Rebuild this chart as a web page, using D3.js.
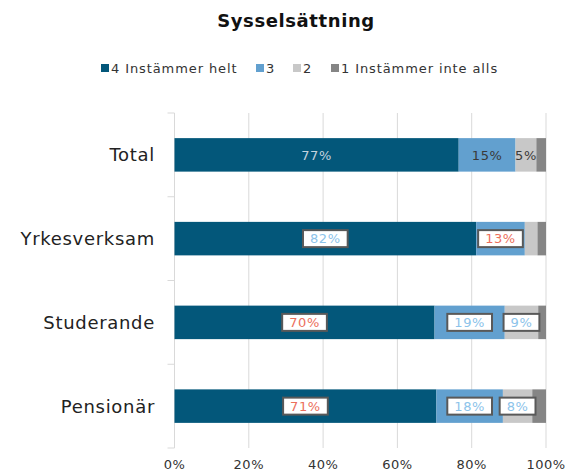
<!DOCTYPE html>
<html>
<head>
<meta charset="utf-8">
<script src="https://cdn.jsdelivr.net/npm/d3@7"></script>
<style>
  body { margin: 0; background: #fff; }
  svg text { font-family: "Century Gothic", "URW Gothic", "DejaVu Sans", sans-serif; }
</style>
</head>
<body>
<div id="chart"></div>
<script>
// data
const groups = ["Total", "Yrkesverksam", "Studerande", "Pensionär"];
const seriesNames = ["4 Instämmer helt", "3", "2", "1 Instämmer inte alls"];
const helt   = [76.5, 81.2, 70.0, 70.5];
const tre    = [15.3, 13.1, 18.9, 17.9];
const tva    = [5.6, 3.4, 9.0, 7.9];
const inte   = [2.6, 2.3, 2.1, 3.7];
const xTicks = [0, 20, 40, 60, 80, 100];

// shown labels ("" = none), and style per label
const labels = [
    ["77%", "15%", "5%", ""],
    ["82%", "13%", "", ""],
    ["70%", "19%", "9%", ""],
    ["71%", "18%", "8%", ""]
];
const labelStyle = [
    ["plainLight", "plain", "plain", ""],
    ["blue", "red", "", ""],
    ["red", "blue", "blue", ""],
    ["red", "blue", "blue", ""]
];

const colors = ["#03577a", "#62a0cf", "#c8c8c8", "#858585"];

const width = 575, height = 473;
const margin = {top: 113, right: 29, bottom: 25, left: 174.5};

const svg = d3.select("#chart").append("svg")
    .attr("width", width)
    .attr("height", height);

const x = d3.scaleLinear().domain([0, 100]).range([margin.left, width - margin.right]);
const y = d3.scaleBand().domain(groups).range([margin.top, height - margin.bottom]).paddingInner(0.6).paddingOuter(0.3);
const yOuter = d3.scaleBand().domain(groups).range([margin.top, height - margin.bottom]);

// gridlines
svg.append("g")
    .selectAll("line")
    .data(xTicks.slice(1))
    .join("line")
    .attr("x1", d => x(d)).attr("x2", d => x(d))
    .attr("y1", margin.top).attr("y2", height - margin.bottom)
    .attr("stroke", "#d9d9d9")
    .attr("stroke-width", 1);

// category axis line + ticks
svg.append("line")
    .attr("x1", x(0)).attr("x2", x(0))
    .attr("y1", margin.top).attr("y2", height - margin.bottom)
    .attr("stroke", "#d9d9d9");
svg.append("g")
    .selectAll("line")
    .data(groups.map(g => yOuter(g)).concat([height - margin.bottom]))
    .join("line")
    .attr("x1", x(0) - 7).attr("x2", x(0))
    .attr("y1", d => d).attr("y2", d => d)
    .attr("stroke", "#d9d9d9");

// stacked bars
const rows = groups.map((g, i) => {
    const vals = [helt[i], tre[i], tva[i], inte[i]];
    let acc = 0;
    return vals.map((v, k) => {
        const seg = {group: g, row: i, k: k, x0: acc, x1: acc + v};
        acc += v;
        return seg;
    });
});

const segs = rows.flat();

svg.append("g")
    .selectAll("rect")
    .data(segs)
    .join("rect")
    .attr("x", d => x(d.x0))
    .attr("width", d => x(d.x1) - x(d.x0))
    .attr("y", d => y(d.group))
    .attr("height", y.bandwidth())
    .attr("fill", d => colors[d.k]);

// data labels
const labG = svg.append("g");
segs.forEach(d => {
    const txt = labels[d.row][d.k];
    if (!txt) return;
    const st = labelStyle[d.row][d.k];
    const cx = (x(d.x0) + x(d.x1)) / 2;
    const cy = y(d.group) + y.bandwidth() / 2;
    const t = labG.append("text")
        .attr("x", cx)
        .attr("y", cy)
        .attr("dy", "0.36em")
        .attr("text-anchor", "middle")
        .attr("font-size", 13)
        .attr("letter-spacing", 0.6)
        .text(txt);
    if (st === "plainLight") {
        t.attr("fill", "#c4d3df");
    } else if (st === "plain") {
        t.attr("fill", "#3a3a3a");
    } else {
        t.attr("fill", st === "blue" ? "#8cc3ea" : "#ec6f5c");
        const bw = t.node().getComputedTextLength() + 14;
        labG.insert("rect", () => t.node())
            .attr("x", cx - bw / 2)
            .attr("y", cy - 8.5)
            .attr("width", bw)
            .attr("height", 17)
            .attr("fill", "#fff")
            .attr("stroke", "#595959")
            .attr("stroke-width", 2);
    }
});

// category labels
svg.append("g")
    .selectAll("text")
    .data(groups)
    .join("text")
    .attr("x", 155)
    .attr("y", d => y(d) + y.bandwidth() / 2)
    .attr("dy", "0.36em")
    .attr("text-anchor", "end")
    .attr("font-size", 18)
    .attr("letter-spacing", 0.7)
    .attr("fill", "#222")
    .text(d => d);

// x tick labels
svg.append("g")
    .selectAll("text")
    .data(xTicks)
    .join("text")
    .attr("x", d => x(d))
    .attr("y", 469)
    .attr("text-anchor", "middle")
    .attr("font-size", 13)
    .attr("letter-spacing", 0.5)
    .attr("fill", "#333")
    .text(d => d + "%");

// title
svg.append("text")
    .attr("x", 296)
    .attr("y", 27)
    .attr("text-anchor", "middle")
    .attr("font-size", 18)
    .attr("font-weight", "bold")
    .attr("letter-spacing", 0.6)
    .attr("fill", "#111")
    .text("Sysselsättning");

// legend
const legendX = [101, 256, 293, 331];
const leg = svg.append("g")
    .selectAll("g")
    .data(seriesNames)
    .join("g")
    .attr("transform", (d, i) => `translate(${legendX[i]},68)`);
leg.append("rect")
    .attr("x", 0).attr("y", -4)
    .attr("width", 8).attr("height", 8)
    .attr("fill", (d, i) => colors[i]);
leg.append("text")
    .attr("x", 10)
    .attr("dy", "0.36em")
    .attr("font-size", 13)
    .attr("letter-spacing", 0.9)
    .attr("fill", "#333")
    .text(d => d);
</script>
</body>
</html>
